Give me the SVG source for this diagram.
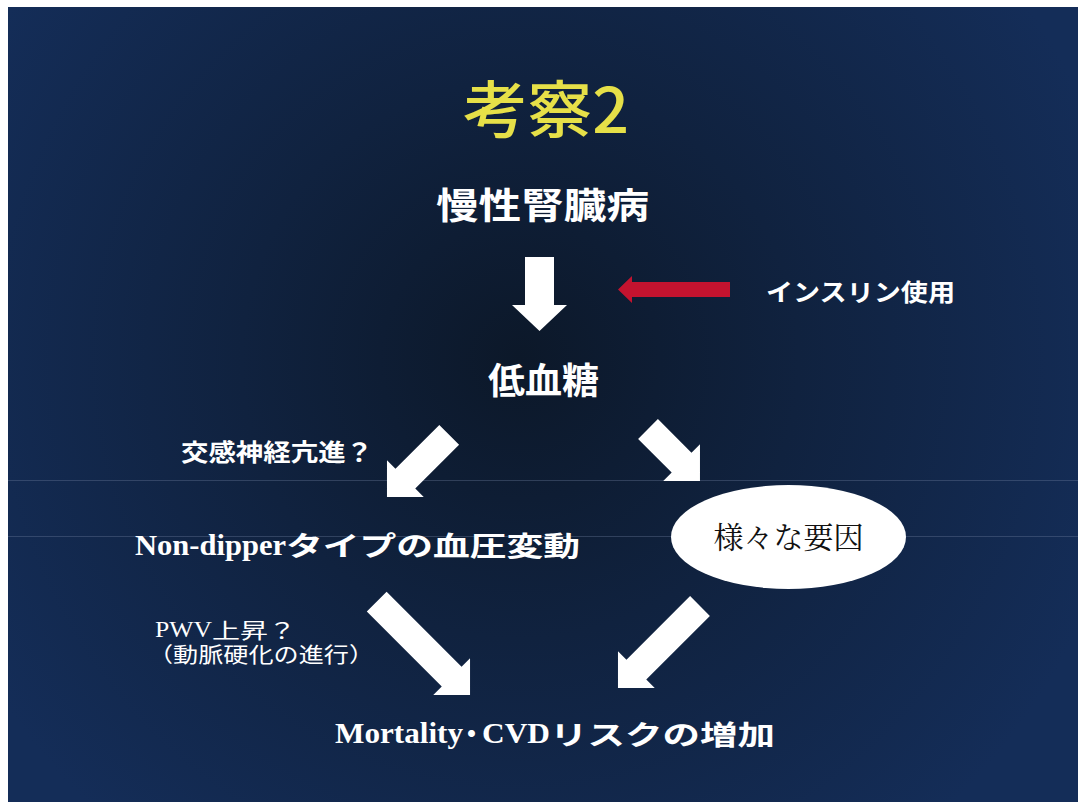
<svg xmlns="http://www.w3.org/2000/svg" width="1080" height="802" viewBox="0 0 1080 802">
  <defs>
    <radialGradient id="bg" cx="520" cy="360" r="620" gradientUnits="userSpaceOnUse">
      <stop offset="0" stop-color="#0c1829"/>
      <stop offset="0.45" stop-color="#10223f"/>
      <stop offset="1" stop-color="#142d58"/>
    </radialGradient>
    <style>
      .jp { font-family: "Noto Sans CJK JP", "Noto Sans", sans-serif; fill: #ffffff; }
      .jpb { font-family: "Noto Sans CJK JP", "Noto Sans", sans-serif; font-weight: bold; fill: #ffffff; }
      .lat { font-family: "Liberation Serif", "Times New Roman", serif; fill: #ffffff; }
      .latb { font-family: "Liberation Serif", "Times New Roman", serif; font-weight: bold; fill: #ffffff; }
      .arrow { fill: #ffffff; }
      .red { fill: #c4132f; }
      .scan { stroke: #7080a0; stroke-width: 1; opacity: 0.35; }
    </style>
  </defs>

  <rect x="0" y="0" width="1080" height="802" fill="#ffffff"/>
  <rect x="8" y="7" width="1070" height="795" fill="url(#bg)"/>
  <line class="scan" x1="8" y1="480.5" x2="1078" y2="480.5"/>
  <line class="scan" x1="8" y1="536.5" x2="1078" y2="536.5"/>

  <g id="title">
    <text x="463" y="133" font-family="'Noto Sans CJK JP', 'Noto Sans', sans-serif" font-size="62" font-weight="500" fill="#e6e048" textLength="166" lengthAdjust="spacingAndGlyphs">考察2</text>
  </g>

  <g id="ckd">
    <text class="jpb" x="436" y="219" font-size="36" textLength="213" lengthAdjust="spacingAndGlyphs">慢性腎臓病</text>
  </g>

  <g id="insulin">
    <text class="jpb" x="766" y="301" font-size="24" textLength="189" lengthAdjust="spacingAndGlyphs">インスリン使用</text>
  </g>

  <g id="hypoglycemia">
    <text class="jpb" x="488" y="394" font-size="36" textLength="111" lengthAdjust="spacingAndGlyphs">低血糖</text>
  </g>

  <g id="sympathetic">
    <text class="jpb" x="181" y="461" font-size="24" textLength="192" lengthAdjust="spacingAndGlyphs">交感神経亢進？</text>
  </g>

  <g id="nondipper">
    <text class="latb" x="135" y="555" font-size="30" textLength="151" lengthAdjust="spacingAndGlyphs">Non-dipper</text>
    <text class="jpb" x="286" y="556" font-size="27" textLength="294" lengthAdjust="spacingAndGlyphs">タイプの血圧変動</text>
  </g>

  <g id="factors">
    <ellipse cx="788.5" cy="537" rx="117.5" ry="52" fill="#ffffff"/>
    <text x="788.5" y="548" font-family="'Noto Serif CJK JP', 'Noto Sans CJK JP', serif" font-size="30" fill="#111111" text-anchor="middle" textLength="150" lengthAdjust="spacingAndGlyphs">様々な要因</text>
  </g>

  <g id="pwv">
    <text class="lat" x="155" y="637" font-size="24" textLength="57" lengthAdjust="spacingAndGlyphs">PWV</text>
    <text class="jp" x="212" y="638" font-size="21" textLength="84" lengthAdjust="spacingAndGlyphs">上昇？</text>
    <text class="jp" x="148" y="662" font-size="21" textLength="226" lengthAdjust="spacingAndGlyphs">（動脈硬化の進行）</text>
  </g>

  <g id="mortality">
    <text class="latb" x="335" y="743" font-size="30" textLength="128" lengthAdjust="spacingAndGlyphs">Mortality</text>
    <text class="jpb" x="458" y="744" font-size="27">・</text>
    <text class="latb" x="482" y="743" font-size="30" textLength="68" lengthAdjust="spacingAndGlyphs">CVD</text>
    <text class="jpb" x="550" y="745" font-size="27" textLength="225" lengthAdjust="spacingAndGlyphs">リスクの増加</text>
  </g>

  <g id="connectors">
    <!-- CKD -> hypoglycemia -->
    <polygon class="arrow" transform="translate(539.5,257) rotate(90)" points="0,-14.5 48,-14.5 48,-27.5 74,0 48,27.5 48,14.5 0,14.5"/>
    <!-- insulin -> (red) -->
    <polygon class="red" points="730,282 632,282 632,276 618,289.5 632,303 632,297 730,297"/>
    <!-- hypoglycemia -> non-dipper -->
    <polygon class="arrow" transform="translate(449.2,434.8) rotate(135)" points="0,-14 62,-14 62,-26 88,0 62,26 62,14 0,14"/>
    <!-- hypoglycemia -> factors -->
    <polygon class="arrow" transform="translate(648,429) rotate(45)" points="0,-14 47.5,-14 47.5,-26 73.5,0 47.5,26 47.5,14 0,14"/>
    <!-- non-dipper -> mortality -->
    <polygon class="arrow" transform="translate(376.7,601.7) rotate(45)" points="0,-14 106,-14 106,-26 132,0 106,26 106,14 0,14"/>
    <!-- factors -> mortality -->
    <polygon class="arrow" transform="translate(700,606) rotate(135)" points="0,-14 90,-14 90,-26 116,0 90,26 90,14 0,14"/>
  </g>
</svg>
